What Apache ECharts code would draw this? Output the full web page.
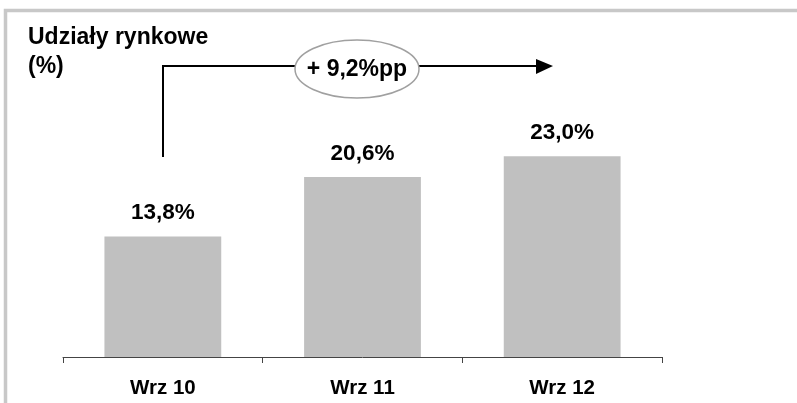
<!DOCTYPE html>
<html>
<head>
<meta charset="utf-8">
<script src="https://cdn.jsdelivr.net/npm/echarts@6/dist/echarts.min.js"></script>
<style>
html,body{margin:0;padding:0;background:#fff;}
#c{width:797px;height:403px;}
</style>
</head>
<body>
<div id="c"></div>
<script>
var categories = ['Wrz 10', 'Wrz 11', 'Wrz 12'];
var shares = [13.8, 20.6, 23.0];
var shareLabels = ['13,8%', '20,6%', '23,0%'];
var titleText = 'Udziały rynkowe\n(%)';
var changeText = '+ 9,2%pp';

var FONT = '"Liberation Sans", Arial, sans-serif';
var chart = echarts.init(document.getElementById('c'), null, {renderer: 'canvas'});

var option = {
  backgroundColor: '#ffffff',
  animation: false,
  title: {
    text: titleText,
    left: 23,
    top: 18,
    textStyle: {fontFamily: FONT, fontSize: 23, fontWeight: 'bold', color: '#000', lineHeight: 29}
  },
  grid: {left: 63, right: 135, top: 95, bottom: 46, containLabel: false},
  xAxis: {
    type: 'category',
    data: categories,
    boundaryGap: true,
    axisLine: {show: true, lineStyle: {color: '#444', width: 1}},
    axisTick: {show: true, length: 6, lineStyle: {color: '#444', width: 1}},
    axisLabel: {fontFamily: FONT, fontSize: 20.5, fontWeight: 'bold', color: '#000', margin: 21}
  },
  yAxis: {
    type: 'value',
    min: 0,
    max: 30,
    show: false,
    splitLine: {show: false}
  },
  series: [{
    type: 'bar',
    data: shares,
    barWidth: '58.5%',
    itemStyle: {color: '#c0c0c0'},
    label: {
      show: true,
      position: 'top',
      distance: 12,
      fontFamily: FONT,
      fontSize: 22.5,
      fontWeight: 'bold',
      color: '#000',
      formatter: function (p) { return shareLabels[p.dataIndex]; }
    }
  }],
  graphic: [
    {
      type: 'rect',
      shape: {x: 5.5, y: 10.5, width: 1200, height: 1200},
      style: {fill: 'none', stroke: '#c8c8c8', lineWidth: 3.5},
      silent: true
    },
    {
      type: 'polyline',
      shape: {points: [[163, 157], [163, 66], [296, 66]]},
      style: {stroke: '#000', lineWidth: 2, fill: 'none'}
    },
    {
      type: 'line',
      shape: {x1: 418, y1: 66, x2: 540, y2: 66},
      style: {stroke: '#000', lineWidth: 2}
    },
    {
      type: 'polygon',
      shape: {points: [[536, 59], [553, 66], [536, 74]]},
      style: {fill: '#000'}
    },
    {
      type: 'ellipse',
      shape: {cx: 357, cy: 69, rx: 62, ry: 29},
      style: {fill: '#fff', stroke: '#a0a0a0', lineWidth: 1.5}
    },
    {
      type: 'text',
      x: 357,
      y: 70,
      style: {
        text: changeText,
        fontFamily: FONT,
        fontSize: 23,
        fontWeight: 'bold',
        fill: '#000',
        align: 'center',
        verticalAlign: 'middle'
      }
    }
  ]
};
chart.setOption(option);
</script>
</body>
</html>
